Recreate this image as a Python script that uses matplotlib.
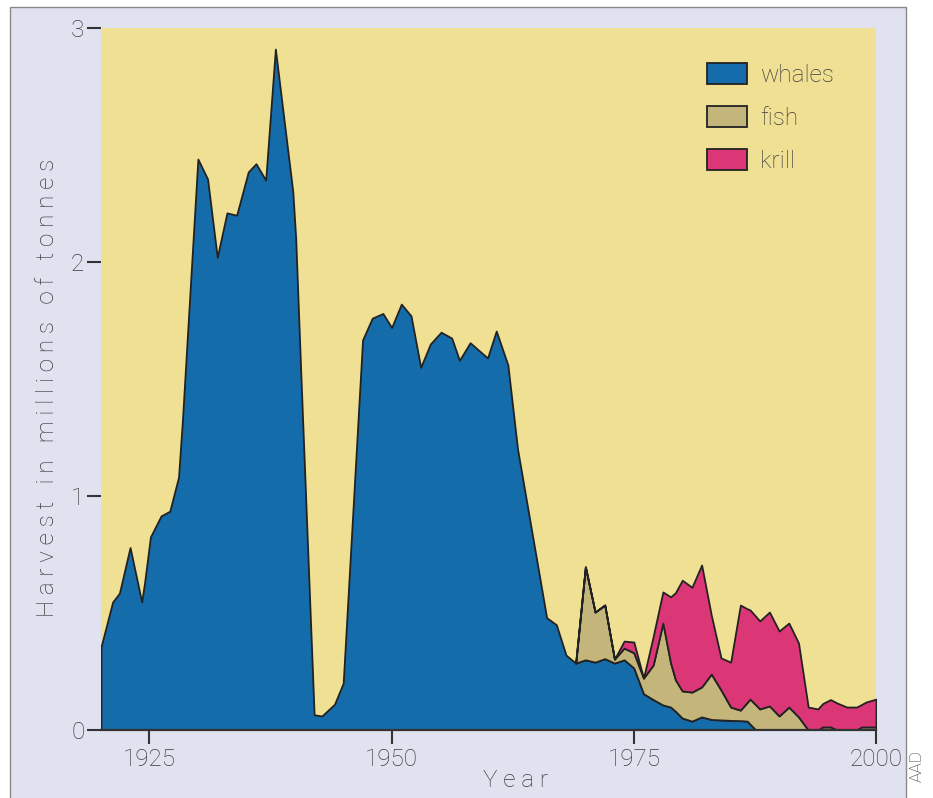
import matplotlib
matplotlib.use("Agg")
import matplotlib.pyplot as plt
from matplotlib.patches import Rectangle
import numpy as np

# ---------------- data ----------------
years_early = [1920, 1921.2, 1921.9, 1923, 1924.2, 1924.5, 1925.1, 1926.2, 1927.1, 1928,
               1928.4, 1930, 1931, 1932, 1933, 1934, 1935.2, 1936, 1937, 1938,
               1939.8, 1940.1, 1940.6, 1942, 1942.8, 1944.1, 1945, 1947, 1948, 1949.1,
               1950, 1951, 1952, 1953, 1954, 1955.1, 1956.2, 1957, 1958.1, 1959.9,
               1960.8, 1962, 1963, 1966, 1967, 1968]
whales_early = [0.355, 0.547, 0.585, 0.78, 0.547, 0.63, 0.825, 0.915, 0.935, 1.08,
                1.32, 2.44, 2.355, 2.02, 2.21, 2.20, 2.385, 2.42, 2.35, 2.91,
                2.3, 2.1, 1.55, 0.065, 0.06, 0.11, 0.2, 1.667, 1.76, 1.78,
                1.72, 1.82, 1.77, 1.55, 1.65, 1.70, 1.675, 1.58, 1.655, 1.59,
                1.705, 1.56, 1.2, 0.48, 0.45, 0.32]

years_late = [1969, 1970, 1971, 1972, 1973, 1974, 1975, 1976, 1977, 1978, 1978.8, 1979.3,
              1980, 1981, 1982, 1983, 1984, 1985, 1986, 1986.7, 1987, 1987.6,
              1988, 1989, 1990, 1991, 1992, 1993, 1994, 1994.5, 1995.3, 1996,
              1997, 1998, 1998.5, 1999, 2000]
whales_late = [0.286, 0.30, 0.29, 0.305, 0.286, 0.30, 0.265, 0.155, 0.13, 0.107, 0.098, 0.08,
               0.051, 0.038, 0.056, 0.045, 0.043, 0.041, 0.04, 0.038, 0.025, 0.0,
               0, 0, 0, 0, 0, 0, 0, 0, 0, 0,
               0, 0, 0, 0, 0]
fish_late = [0, 0.397, 0.214, 0.229, 0.017, 0.05, 0.065, 0.067, 0.148, 0.35, 0.188, 0.134,
             0.116, 0.124, 0.128, 0.194, 0.128, 0.057, 0.045, 0.08, 0.107, 0.107,
             0.09, 0.103, 0.06, 0.098, 0.056, 0, 0, 0.013, 0.013, 0,
             0, 0, 0.013, 0.013, 0.013]
krill_late = [0, 0, 0, 0, 0, 0.03, 0.046, 0, 0.122, 0.133, 0.283, 0.373,
              0.473, 0.448, 0.521, 0.251, 0.137, 0.192, 0.449, 0.40, 0.381, 0.378,
              0.376, 0.401, 0.363, 0.359, 0.316, 0.098, 0.09, 0.10, 0.117, 0.115,
              0.098, 0.098, 0.096, 0.107, 0.119]

labels = ["whales", "fish", "krill"]
x_ticks = [1925, 1950, 1975, 2000]
y_ticks = [0, 1, 2, 3]

# ---------------- style ----------------
C_WHALE = "#156caa"
C_FISH = "#c4b57a"
C_KRILL = "#db3676"
C_PLOT = "#f0e094"
C_FRAME = "#e0e2f0"
C_EDGE = "#222222"
C_TEXT = "#3c3c3c"
FONT = ["Liberation Sans Narrow", "Roboto", "DejaVu Sans"]
FS = 17.5

plt.rcParams["font.family"] = FONT
plt.rcParams["font.weight"] = "light"
plt.rcParams["axes.labelweight"] = "light"

W, H = 933, 798
fig = plt.figure(figsize=(W / 100, H / 100), dpi=100, facecolor="white")
# lavender panel with grey border
fig.patches.append(Rectangle((10 / W, -0.02), (906 - 10) / W, 1.02 - 7 / H,
                             transform=fig.transFigure, facecolor=C_FRAME,
                             edgecolor="#8a8a8a", linewidth=1.0, zorder=-10))

ax = fig.add_axes([101 / W, (H - 730) / H, (876 - 101) / W, 702 / H])
ax.set_facecolor(C_PLOT)

yrs_all = np.array(years_early + years_late)
wh_all = np.array(whales_early + whales_late)
yl = np.array(years_late)
wl = np.array(whales_late)
fl = wl + np.array(fish_late)
kl = fl + np.array(krill_late)

ax.fill_between(yrs_all, 0, wh_all, facecolor=C_WHALE, edgecolor=C_EDGE,
                linewidth=1.3, label=labels[0])
ax.fill_between(yl, wl, fl, facecolor=C_FISH, edgecolor=C_EDGE,
                linewidth=1.3, label=labels[1])
ax.fill_between(yl, fl, kl, facecolor=C_KRILL, edgecolor=C_EDGE,
                linewidth=1.3, label=labels[2])

ax.set_xlim(1920, 2000)
ax.set_ylim(0, 3)
ax.set_xticks(x_ticks)
ax.set_yticks(y_ticks)
for s in ["top", "right", "left"]:
    ax.spines[s].set_visible(False)
ax.spines["bottom"].set_color("#333333")
ax.spines["bottom"].set_linewidth(1.6)
ax.tick_params(axis="both", direction="out", length=10, width=1.5,
               color="#333333", labelcolor=C_TEXT, labelsize=FS)
ax.tick_params(axis="y", pad=2)
ax.tick_params(axis="x", pad=3)

ax.set_ylabel("H a r v e s t   i n   m i l l i o n s   o f   t o n n e s",
              fontsize=FS, color=C_TEXT, fontweight="light")
ax.yaxis.set_label_coords(-0.054, 0.487)
ax.set_xlabel("Y e a r", fontsize=FS, color=C_TEXT, fontweight="light")
ax.xaxis.set_label_coords(0.535, -0.055)

leg = ax.legend(loc="upper left", bbox_to_anchor=((707 - 101) / 775, (730 - 63) / 702),
                frameon=False, fontsize=FS, handlelength=1.66, handleheight=0.97,
                handletextpad=0.53, labelspacing=0.78, borderpad=0, borderaxespad=0)
for t in leg.get_texts():
    t.set_color(C_TEXT)

fig.text(917 / W, 1 - 750 / H, "AAD", rotation=90, ha="center", va="top",
         fontsize=12.5, color=C_TEXT)

fig.savefig("out.png", dpi=100, facecolor=fig.get_facecolor())
